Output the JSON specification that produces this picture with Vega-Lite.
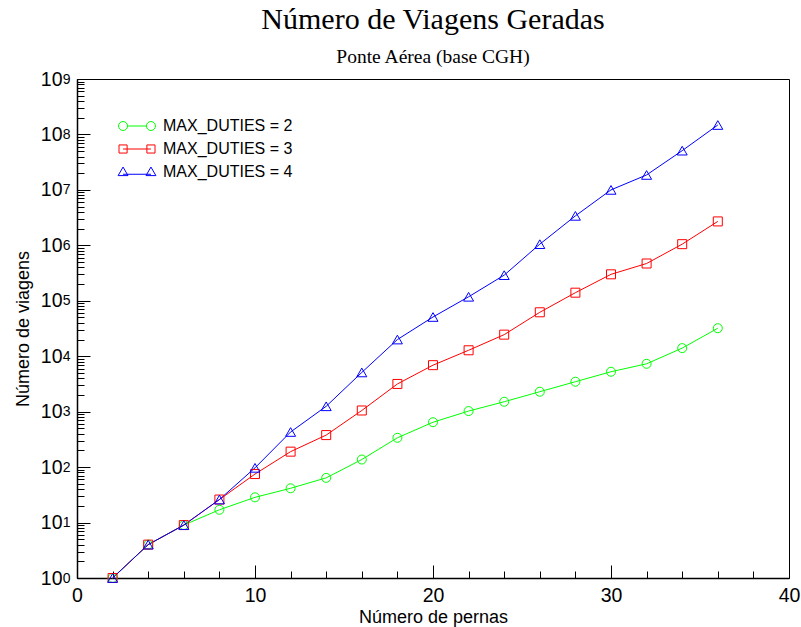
{
  "$schema": "https://vega.github.io/schema/vega-lite/v6.json",
  "width": 712,
  "height": 499,
  "autosize": "none",
  "padding": {"left": 77, "top": 79, "right": 12, "bottom": 49},
  "background": "white",
  "title": {
    "text": "Número de Viagens Geradas",
    "subtitle": "Ponte Aérea (base CGH)",
    "font": "Liberation Serif",
    "fontSize": 30,
    "fontWeight": "normal",
    "color": "black",
    "subtitleFont": "Liberation Serif",
    "subtitleFontSize": 19.5,
    "subtitleColor": "black",
    "subtitlePadding": 13,
    "anchor": "middle",
    "offset": 3
  },
  "config": {
    "view": {"stroke": "black", "strokeWidth": 1},
    "axis": {
      "labelFont": "Liberation Sans",
      "titleFont": "Liberation Sans",
      "labelColor": "black",
      "titleColor": "black",
      "tickColor": "black",
      "domainColor": "black",
      "grid": false,
      "labelOverlap": false,
      "labelBound": false
    }
  },
  "data": {
    "values": [
      {"x": 2, "series": "MAX_DUTIES = 2", "value": 1},
      {"x": 4, "series": "MAX_DUTIES = 2", "value": 4},
      {"x": 6, "series": "MAX_DUTIES = 2", "value": 9},
      {"x": 8, "series": "MAX_DUTIES = 2", "value": 17},
      {"x": 10, "series": "MAX_DUTIES = 2", "value": 28.5},
      {"x": 12, "series": "MAX_DUTIES = 2", "value": 41.5},
      {"x": 14, "series": "MAX_DUTIES = 2", "value": 64},
      {"x": 16, "series": "MAX_DUTIES = 2", "value": 137},
      {"x": 18, "series": "MAX_DUTIES = 2", "value": 338},
      {"x": 20, "series": "MAX_DUTIES = 2", "value": 645},
      {"x": 22, "series": "MAX_DUTIES = 2", "value": 1025},
      {"x": 24, "series": "MAX_DUTIES = 2", "value": 1510},
      {"x": 26, "series": "MAX_DUTIES = 2", "value": 2290},
      {"x": 28, "series": "MAX_DUTIES = 2", "value": 3470},
      {"x": 30, "series": "MAX_DUTIES = 2", "value": 5250},
      {"x": 32, "series": "MAX_DUTIES = 2", "value": 7300},
      {"x": 34, "series": "MAX_DUTIES = 2", "value": 14000},
      {"x": 36, "series": "MAX_DUTIES = 2", "value": 32000},
      {"x": 2, "series": "MAX_DUTIES = 3", "value": 1},
      {"x": 4, "series": "MAX_DUTIES = 3", "value": 4},
      {"x": 6, "series": "MAX_DUTIES = 3", "value": 9},
      {"x": 8, "series": "MAX_DUTIES = 3", "value": 26},
      {"x": 10, "series": "MAX_DUTIES = 3", "value": 75},
      {"x": 12, "series": "MAX_DUTIES = 3", "value": 190},
      {"x": 14, "series": "MAX_DUTIES = 3", "value": 378},
      {"x": 16, "series": "MAX_DUTIES = 3", "value": 1050},
      {"x": 18, "series": "MAX_DUTIES = 3", "value": 3160},
      {"x": 20, "series": "MAX_DUTIES = 3", "value": 6900},
      {"x": 22, "series": "MAX_DUTIES = 3", "value": 12800},
      {"x": 24, "series": "MAX_DUTIES = 3", "value": 24500},
      {"x": 26, "series": "MAX_DUTIES = 3", "value": 62000},
      {"x": 28, "series": "MAX_DUTIES = 3", "value": 140000},
      {"x": 30, "series": "MAX_DUTIES = 3", "value": 300000},
      {"x": 32, "series": "MAX_DUTIES = 3", "value": 470000},
      {"x": 34, "series": "MAX_DUTIES = 3", "value": 1050000},
      {"x": 36, "series": "MAX_DUTIES = 3", "value": 2700000},
      {"x": 2, "series": "MAX_DUTIES = 4", "value": 1},
      {"x": 4, "series": "MAX_DUTIES = 4", "value": 4},
      {"x": 6, "series": "MAX_DUTIES = 4", "value": 9},
      {"x": 8, "series": "MAX_DUTIES = 4", "value": 26},
      {"x": 10, "series": "MAX_DUTIES = 4", "value": 97},
      {"x": 12, "series": "MAX_DUTIES = 4", "value": 430},
      {"x": 14, "series": "MAX_DUTIES = 4", "value": 1250},
      {"x": 16, "series": "MAX_DUTIES = 4", "value": 5100},
      {"x": 18, "series": "MAX_DUTIES = 4", "value": 20000},
      {"x": 20, "series": "MAX_DUTIES = 4", "value": 51000},
      {"x": 22, "series": "MAX_DUTIES = 4", "value": 118000},
      {"x": 24, "series": "MAX_DUTIES = 4", "value": 290000},
      {"x": 26, "series": "MAX_DUTIES = 4", "value": 1050000},
      {"x": 28, "series": "MAX_DUTIES = 4", "value": 3400000},
      {"x": 30, "series": "MAX_DUTIES = 4", "value": 10000000},
      {"x": 32, "series": "MAX_DUTIES = 4", "value": 18600000},
      {"x": 34, "series": "MAX_DUTIES = 4", "value": 51000000},
      {"x": 36, "series": "MAX_DUTIES = 4", "value": 148000000}
    ]
  },
  "layer": [
    {
      "mark": {"type": "line", "strokeWidth": 1},
      "encoding": {
        "x": {
          "field": "x", "type": "quantitative",
          "scale": {"domain": [0, 40], "nice": false, "zero": false},
          "axis": {
            "orient": "bottom", "values": [0, 10, 20, 30, 40], "tickSize": -13, "tickWidth": 1,
            "domainWidth": 1.5, "labelFontSize": 19.5, "labelPadding": 21,
            "labelFlush": false,
            "title": "Número de pernas", "titleFontSize": 18, "titleFontWeight": "normal", "titlePadding": 4
          }
        },
        "y": {
          "field": "value", "type": "quantitative",
          "scale": {"type": "log", "domain": [1, 1000000000], "nice": false},
          "axis": {
            "orient": "left", "values": [1, 10, 100, 1000, 10000, 100000, 1000000, 10000000, 100000000, 1000000000],
            "tickSize": -13, "tickWidth": 1, "domainWidth": 1.5, "labelFontSize": 19.5, "labelPadding": 28,
            "labelFlush": false, "labelDy": 4,
            "labelExpr": "'10'",
            "title": "Número de viagens", "titleFontSize": 18, "titleFontWeight": "normal", "titlePadding": 8
          }
        },
        "color": {
          "field": "series", "type": "nominal",
          "scale": {"domain": ["MAX_DUTIES = 2", "MAX_DUTIES = 3", "MAX_DUTIES = 4"], "range": ["#00ff00", "#ff0000", "#0000ff"]},
          "legend": {
            "orient": "none", "legendX": 52, "legendY": 39, "title": null,
            "labelFont": "Liberation Sans", "labelFontSize": 16, "labelColor": "black",
            "labelOffset": 18, "rowPadding": 7, "symbolSize": 81, "symbolStrokeWidth": 1,
            "encode": {
              "symbols": {
                "update": {
                  "shape": {"signal": "datum.value === 'MAX_DUTIES = 2' ? 'M -4.1 0 A 1 1 0 1 0 -2.1 0 A 1 1 0 1 0 -4.1 0 M 2.1 0 A 1 1 0 1 0 4.1 0 A 1 1 0 1 0 2.1 0 M -2.1 0 L 2.1 0' : datum.value === 'MAX_DUTIES = 3' ? 'M -4 -0.9 L -2.2 -0.9 L -2.2 0.9 L -4 0.9 Z M 2.2 -0.9 L 4 -0.9 L 4 0.9 L 2.2 0.9 Z M -3.1 0 L 3.1 0' : 'M -4.2 0.8 L -3.1 -1.1 L -2 0.8 Z M 2 0.8 L 3.1 -1.1 L 4.2 0.8 Z M -3.1 0.5 L 3.1 0.5'"},
                  "size": {"value": 81},
                  "strokeWidth": {"value": 1},
                  "fill": {"value": "transparent"}
                }
              }
            }
          }
        },
        "order": {"field": "x", "type": "quantitative"}
      }
    },
    {
      "transform": [{"filter": "datum.series === 'MAX_DUTIES = 2'"}],
      "mark": {"type": "point", "shape": "circle", "filled": false, "strokeWidth": 1, "opacity": 1, "size": 81, "color": "#00ff00"},
      "encoding": {
        "x": {
          "field": "x", "type": "quantitative",
          "axis": {
            "orient": "bottom", "values": [2, 4, 6, 8, 12, 14, 16, 18, 22, 24, 26, 28, 32, 34, 36, 38],
            "tickSize": -7, "tickWidth": 1, "labels": false, "domain": false, "title": null
          }
        },
        "y": {
          "field": "value", "type": "quantitative",
          "axis": {
            "orient": "left",
            "values": [1,2,3,4,5,6,7,8,9,10,20,30,40,50,60,70,80,90,100,200,300,400,500,600,700,800,900,1000,2000,3000,4000,5000,6000,7000,8000,9000,10000,20000,30000,40000,50000,60000,70000,80000,90000,100000,200000,300000,400000,500000,600000,700000,800000,900000,1000000,2000000,3000000,4000000,5000000,6000000,7000000,8000000,9000000,10000000,20000000,30000000,40000000,50000000,60000000,70000000,80000000,90000000,100000000,200000000,300000000,400000000,500000000,600000000,700000000,800000000,900000000,1000000000],
            "tickSize": -7, "tickWidth": 1, "domain": false, "title": null,
            "labelFontSize": 14, "labelPadding": 14, "labelDy": -7, "labelFlush": false,
            "labelExpr": "abs(log(datum.value)/LN10 - round(log(datum.value)/LN10)) < 0.001 ? '' + round(log(datum.value)/LN10) : ''"
          }
        }
      }
    },
    {
      "transform": [{"filter": "datum.series === 'MAX_DUTIES = 3'"}],
      "mark": {"type": "point", "shape": "square", "filled": false, "strokeWidth": 1, "opacity": 1, "size": 81, "color": "#ff0000"},
      "encoding": {
        "x": {"field": "x", "type": "quantitative", "axis": null},
        "y": {"field": "value", "type": "quantitative", "axis": null}
      }
    },
    {
      "transform": [{"filter": "datum.series === 'MAX_DUTIES = 4'"}],
      "mark": {"type": "point", "shape": "triangle-up", "filled": false, "strokeWidth": 1, "opacity": 1, "size": 100, "color": "#0000ff"},
      "encoding": {
        "x": {"field": "x", "type": "quantitative", "axis": null},
        "y": {"field": "value", "type": "quantitative", "axis": null}
      }
    }
  ],
  "resolve": {"axis": {"x": "independent", "y": "independent"}}
}
